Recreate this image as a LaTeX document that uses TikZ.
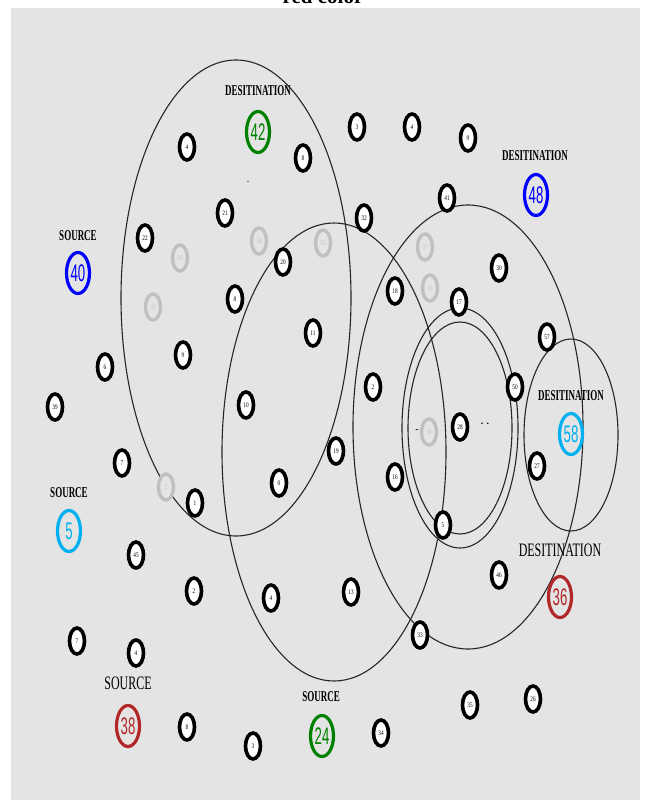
\documentclass[tikz,border=0pt]{standalone}
\usepackage{fontspec}
\setmainfont{Liberation Serif}
\newfontfamily\numfont{Liberation Sans}
\usetikzlibrary{shapes}
\definecolor{bgray}{RGB}{228,228,228}
\definecolor{lgray}{RGB}{192,192,192}
\definecolor{dgreen}{RGB}{0,128,0}
\definecolor{cyanb}{RGB}{0,176,240}
\definecolor{dred}{RGB}{178,40,40}
\newcommand{\tnum}[1]{\scalebox{0.75}[1]{\fontsize{7}{7}\selectfont #1}}
\newcommand{\bnum}[1]{\scalebox{0.55}[1]{\numfont\fontsize{24}{24}\selectfont #1}}
\newcommand{\slbl}[1]{\scalebox{0.6}[1]{\fontsize{15}{15}\selectfont\bfseries #1}}
\newcommand{\llbl}[1]{\scalebox{0.63}[1]{\fontsize{19}{19}\selectfont #1}}
\tikzstyle{blk}=[ellipse, draw=black, fill=white, line width=3.6pt, minimum width=15pt, minimum height=26pt, inner sep=0pt]
\tikzstyle{gry}=[ellipse, draw=lgray, fill=bgray, text=lgray, line width=3.4pt, minimum width=15pt, minimum height=26pt, inner sep=0pt]
\tikzstyle{bignode}=[ellipse, line width=3.2pt, minimum width=23pt, minimum height=41pt, inner sep=0pt]
\tikzstyle{zone}=[line width=1.1pt, draw=black!85]

\begin{document}
\begin{tikzpicture}[x=1pt,y=-1pt]
\useasboundingbox (0,0) rectangle (648,805);
\fill[bgray] (11,8) rectangle (640,800);
\node[anchor=base, font=\fontsize{21}{21}\selectfont\bfseries] (title) at (323,3.3) {red color};
% zones
\coordinate (cA) at (236,298);\coordinate (cB) at (334,452);\coordinate (cC) at (468,427);
\coordinate (cD) at (460,428);\coordinate (cE) at (571,435);
\draw[zone] (cA) ellipse (115 and 238);
\draw[zone] (cB) ellipse (112 and 229);
\draw[zone] (cC) ellipse (115 and 222);
\draw[zone] (cD) ellipse (58 and 120);\draw[zone] (cD) ellipse (52 and 106);
\draw[zone] (cE) ellipse (47 and 96);
% sources and destinations
\node[bignode, draw=dgreen, text=dgreen] (d42) at (258,132) {\bnum{42}};
\node[] (l42) at (258,91) {\slbl{DESITINATION}};
\node[bignode, draw=blue, text=blue] (d48) at (536,195) {\bnum{48}};
\node[] (l48) at (535,156) {\slbl{DESITINATION}};
\node[bignode, draw=blue, text=blue] (s40) at (78,273) {\bnum{40}};
\node[] (l40) at (78,236) {\slbl{SOURCE}};
\node[bignode, draw=cyanb, text=cyanb] (d58) at (571,434) {\bnum{58}};
\node[] (l58) at (571,396) {\slbl{DESITINATION}};
\node[bignode, draw=cyanb, text=cyanb] (s5) at (69,531) {\bnum{5}};
\node[] (l5) at (69,493) {\slbl{SOURCE}};
\node[bignode, draw=dred, text=dred] (d36) at (560,597) {\bnum{36}};
\node[] (l36) at (560,550) {\llbl{DESITINATION}};
\node[bignode, draw=dred, text=dred] (s38) at (128,726) {\bnum{38}};
\node[] (l38) at (128,683) {\llbl{SOURCE}};
\node[bignode, draw=dgreen, text=dgreen] (s24) at (322,736) {\bnum{24}};
\node[] (l24) at (321,697) {\slbl{SOURCE}};
% other nodes
\node[blk] (n4a) at (187,147) {\tnum{4}};
\node[blk] (n8a) at (303,158) {\tnum{8}};
\node[blk] (n21) at (225,213) {\tnum{21}};
\node[blk] (n22) at (145,238) {\tnum{22}};
\node[blk] (n3a) at (357,127) {\tnum{3}};
\node[blk] (n4b) at (412,127) {\tnum{4}};
\node[blk] (n9a) at (468,138) {\tnum{9}};
\node[blk] (n41) at (447,198) {\tnum{41}};
\node[blk] (n32) at (364,218) {\tnum{32}};
\node[blk] (n20) at (283,262) {\tnum{20}};
\node[blk] (n8b) at (235,299) {\tnum{8}};
\node[blk] (n30) at (499,268) {\tnum{30}};
\node[blk] (n18) at (395,291) {\tnum{18}};
\node[blk] (n17) at (459,302) {\tnum{17}};
\node[blk] (n11) at (313,333) {\tnum{11}};
\node[blk] (n9b) at (183,355) {\tnum{9}};
\node[blk] (n6) at (105,367) {\tnum{6}};
\node[blk] (n39) at (55,407) {\tnum{39}};
\node[blk] (n57) at (547,337) {\tnum{57}};
\node[blk] (n2a) at (373,387) {\tnum{2}};
\node[blk] (n50) at (515,387) {\tnum{50}};
\node[blk] (n10) at (246,405) {\tnum{10}};
\node[blk] (n28) at (460,427) {\tnum{28}};
\node[blk] (n27) at (537,466) {\tnum{27}};
\node[blk] (n19) at (336,451) {\tnum{19}};
\node[blk] (n16) at (395,477) {\tnum{16}};
\node[blk] (n0) at (279,483) {\tnum{0}};
\node[blk] (n7a) at (122,463) {\tnum{7}};
\node[blk] (n1) at (195,503) {\tnum{1}};
\node[blk] (n5) at (443,525) {\tnum{5}};
\node[blk] (n45) at (136,555) {\tnum{45}};
\node[blk] (n46) at (499,575) {\tnum{46}};
\node[blk] (n2b) at (194,591) {\tnum{2}};
\node[blk] (n4c) at (271,598) {\tnum{4}};
\node[blk] (n13) at (351,592) {\tnum{13}};
\node[blk] (n7b) at (77,641) {\tnum{7}};
\node[blk] (n4d) at (136,653) {\tnum{4}};
\node[blk] (n33) at (420,635) {\tnum{33}};
\node[blk] (n8c) at (187,727) {\tnum{8}};
\node[blk] (n3b) at (253,746) {\tnum{3}};
\node[blk] (n34) at (381,733) {\tnum{34}};
\node[blk] (n35) at (470,705) {\tnum{35}};
\node[blk] (n26) at (533,699) {\tnum{26}};
% inactive nodes
\node[gry] (g33) at (180,258) {\tnum{33}};
\node[gry] (g32) at (153,307) {\tnum{32}};
\node[gry] (g34) at (259,241) {\tnum{34}};
\node[gry] (g55) at (323,243) {\tnum{55}};
\node[gry] (g37) at (425,247) {\tnum{37}};
\node[gry] (g56) at (430,288) {\tnum{56}};
\node[gry] (g30) at (429,432) {\tnum{30}};
\node[gry] (g2) at (166,487) {\tnum{2}};
% marks
\node[inner sep=0pt] (m1) at (248,182) {.};
\node[inner sep=0pt] (m2) at (417,431) {-};
\node[inner sep=0pt] (m3) at (485,424) {\textbf{. .}};
\end{tikzpicture}
\end{document}
